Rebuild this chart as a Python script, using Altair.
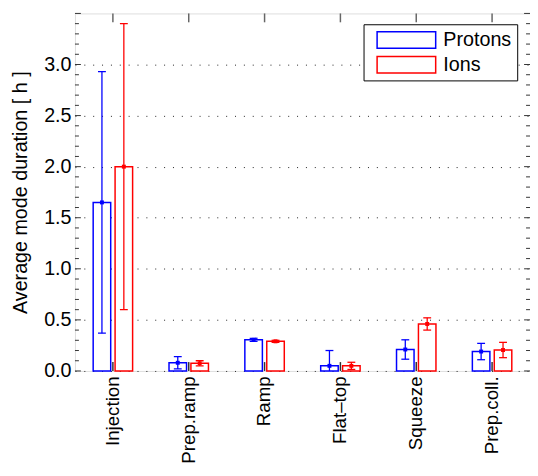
import altair as alt
import pandas as pd

categories = ["Injection", "Prep.ramp", "Ramp", "Flat\u2013top", "Squeeze", "Prep.coll."]
series = ["Protons", "Ions"]
colors = ["#0000ff", "#ff0000"]

protons_mean = [1.65, 0.08, 0.305, 0.05, 0.21, 0.19]
protons_lo = [0.37, 0.02, 0.29, -0.10, 0.115, 0.11]
protons_hi = [2.93, 0.14, 0.32, 0.20, 0.305, 0.27]

ions_mean = [2.00, 0.075, 0.29, 0.05, 0.46, 0.205]
ions_lo = [0.60, 0.05, 0.28, 0.015, 0.40, 0.13]
ions_hi = [3.40, 0.10, 0.30, 0.085, 0.52, 0.28]

y_labels = [0.0, 0.5, 1.0, 1.5, 2.0, 2.5, 3.0]
y_major = [0.0, 0.5, 1.0, 1.5, 2.0, 2.5, 3.0, 3.5]
y_minor = [0.1, 0.2, 0.3, 0.4, 0.6, 0.7, 0.8, 0.9, 1.1, 1.2, 1.3, 1.4,
           1.6, 1.7, 1.8, 1.9, 2.1, 2.2, 2.3, 2.4, 2.6, 2.7, 2.8, 2.9,
           3.1, 3.2, 3.3, 3.4]

rows = []
for i, c in enumerate(categories):
    rows.append({"category": c, "series": "Protons", "mean": protons_mean[i],
                 "lo": protons_lo[i], "hi": protons_hi[i]})
    rows.append({"category": c, "series": "Ions", "mean": ions_mean[i],
                 "lo": ions_lo[i], "hi": ions_hi[i]})
df = pd.DataFrame(rows)

W, H = 462, 363
FONT = "Liberation Sans"

xscale = alt.Scale(domain=categories, paddingInner=0.48, paddingOuter=0.24)
yscale = alt.Scale(domain=[0, 3.5], nice=False, zero=True)
offscale = alt.Scale(domain=series, paddingInner=0.2, paddingOuter=0)
cscale = alt.Scale(domain=series, range=colors)

xaxis = alt.Axis(title=None, labelAngle=-90, labelAlign="right", labelBaseline="middle",
                 labelFontSize=19, labelFont=FONT, labelPadding=5, labelColor="black",
                 ticks=False, domain=False, grid=False)
yaxis = alt.Axis(title="Average mode duration [ h ]", values=y_labels, format=".1f",
                 labelFontSize=20, labelFont=FONT, labelPadding=4, labelColor="black",
                 titleFontSize=20, titleFont=FONT, titleFontWeight="normal", titleColor="black",
                 titlePadding=13, ticks=False, domain=False, grid=True, gridDash=[1, 8],
                 gridColor="#222222", gridWidth=1)

def xenc():
    return alt.X("category:N", scale=xscale, sort=categories, axis=xaxis)

xo = alt.XOffset("series:N", scale=offscale, sort=series)
col = alt.Color("series:N", scale=cscale, legend=None)

# hollow rectangle drawn as a ring-shaped path (outer and inner contours)
ring = "M-1,-0.3H1V0.3H-1Z M-0.95,-0.25V0.25H0.95V-0.25Z"
legend = alt.Legend(title=None, orient="none", legendX=293, legendY=11,
                    symbolType=ring, symbolSize=3721,
                    symbolStrokeWidth=0, symbolOpacity=1,
                    labelFontSize=20, labelFont=FONT, labelColor="black", labelOffset=7,
                    strokeColor="black", fillColor="white", padding=6, symbolOffset=7,
                    clipHeight=20, rowPadding=5)

bar_fill = alt.Chart(df).mark_bar(fill="white", strokeWidth=0).encode(
    x=xenc(), xOffset=xo,
    y=alt.Y("mean:Q", scale=yscale, axis=yaxis),
)
bars = alt.Chart(df).mark_bar(filled=False, strokeWidth=1.5).encode(
    x=xenc(), xOffset=xo,
    y=alt.Y("mean:Q", scale=yscale, axis=yaxis),
    color=alt.Color("series:N", scale=cscale, legend=legend),
)

err = alt.Chart(df).mark_rule(strokeWidth=1.3, clip=True).encode(
    x=xenc(), xOffset=xo,
    y=alt.Y("lo:Q", scale=yscale, axis=yaxis), y2="hi:Q", color=col,
)
cap_lo = alt.Chart(df).mark_tick(size=8, thickness=1.3, clip=True, opacity=1).encode(
    x=xenc(), xOffset=xo, y=alt.Y("lo:Q", scale=yscale, axis=yaxis), color=col,
)
cap_hi = alt.Chart(df).mark_tick(size=8, thickness=1.3, clip=True, opacity=1).encode(
    x=xenc(), xOffset=xo, y=alt.Y("hi:Q", scale=yscale, axis=yaxis), color=col,
)
pts = alt.Chart(df).mark_square(size=16, opacity=1).encode(
    x=xenc(), xOffset=xo, y=alt.Y("mean:Q", scale=yscale, axis=yaxis), color=col,
)

major_df = pd.DataFrame({"t": y_major})
minor_df = pd.DataFrame({"t": y_minor})
cat_df = pd.DataFrame({"category": categories})

def yticks(d, x0, x1):
    return alt.Chart(d).mark_rule(color="#333333", strokeWidth=1).encode(
        y=alt.Y("t:Q", scale=yscale, axis=yaxis), x=alt.value(x0), x2=alt.value(x1))

lt_major = yticks(major_df, 0, 6)
lt_minor = yticks(minor_df, 0, 4)
rt_major = yticks(major_df, W, W - 6)
rt_minor = yticks(minor_df, W, W - 4)

top_ticks = alt.Chart(cat_df).mark_rule(color="#666666", strokeWidth=1.5).encode(
    x=alt.X("category:N", scale=xscale, sort=categories, axis=xaxis, bandPosition=0.5),
    y=alt.value(0), y2=alt.value(9))
bot_ticks = alt.Chart(cat_df).mark_rule(color="#333333", strokeWidth=1.5).encode(
    x=alt.X("category:N", scale=xscale, sort=categories, axis=xaxis, bandPosition=0.5),
    y=alt.value(H), y2=alt.value(H - 9))

chart = alt.layer(
    bars, err, cap_lo, cap_hi, pts,
    lt_major, lt_minor, rt_major, rt_minor, top_ticks, bot_ticks,
).properties(
    width=W, height=H,
)
chart = alt.layer(bar_fill, chart).properties(
    width=W, height=H,
    autosize=alt.AutoSizeParams(type="none"),
    padding={"left": 68, "top": 2, "right": 0, "bottom": 94},
).configure_view(
    stroke="black", strokeWidth=1.5
).configure_legend(
    strokeWidth=1.5
).configure(
    background="white"
)

chart.save("out.html", embed_options={"renderer": "svg", "actions": False})
